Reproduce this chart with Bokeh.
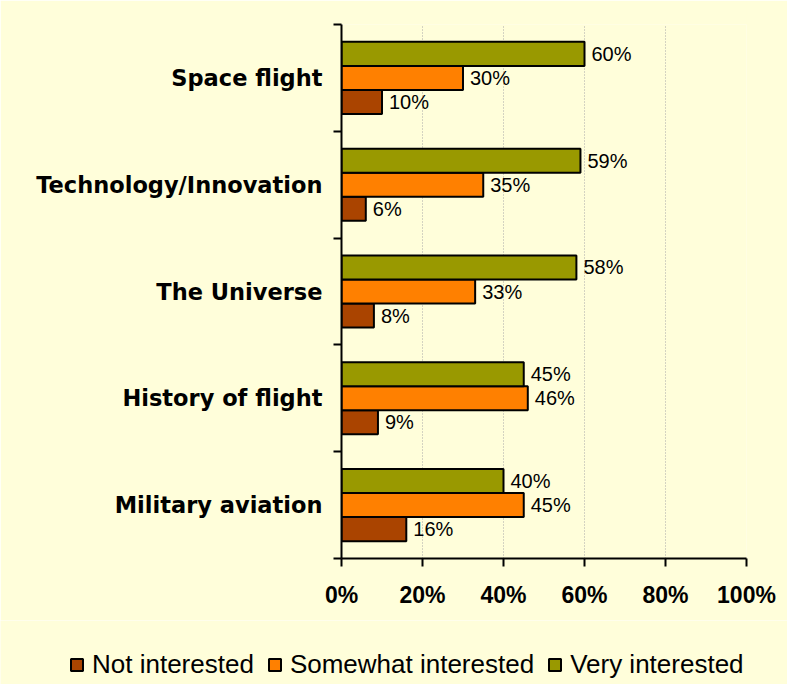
from bokeh.plotting import figure
from bokeh.models import (ColumnDataSource, FixedTicker, PrintfTickFormatter,
                          Legend, LegendItem, LabelSet)
from bokeh.core.properties import value
from bokeh.transform import dodge
from bokeh.embed import file_html
from bokeh.resources import INLINE

# ---- data (bottom to top order in chart) ----
categories = ["Military aviation", "History of flight", "The Universe",
              "Technology/Innovation", "Space flight"]
not_interested = [16, 9, 8, 6, 10]
somewhat_interested = [45, 46, 33, 35, 30]
very_interested = [40, 45, 58, 59, 60]
series_names = ["Not interested", "Somewhat interested", "Very interested"]
x_ticks = [0, 20, 40, 60, 80, 100]

colors = {"Not interested": "#AA4400",
          "Somewhat interested": "#FF8000",
          "Very interested": "#999900"}

pos = [i + 0.5 for i in range(len(categories))]
src = ColumnDataSource(dict(
    pos=pos, cat=categories,
    ni=not_interested, si=somewhat_interested, vi=very_interested,
    ni_lab=[f"{v}%" for v in not_interested],
    si_lab=[f"{v}%" for v in somewhat_interested],
    vi_lab=[f"{v}%" for v in very_interested],
))

BG = "#FFFEDA"
W = 787
p = figure(width=W, height=620, output_backend="svg", toolbar_location=None,
           x_range=(0, 100), y_range=(0, len(categories)),
           min_border_left=341, min_border_right=41,
           min_border_top=24, min_border_bottom=62,
           background_fill_color=BG, border_fill_color=BG)
p.outline_line_color = None

bh = 0.225
offsets = {"Not interested": -bh, "Somewhat interested": 0.0, "Very interested": bh}
fields = {"Not interested": ("ni", "ni_lab"),
          "Somewhat interested": ("si", "si_lab"),
          "Very interested": ("vi", "vi_lab")}

for name in series_names:
    f, lab = fields[name]
    p.hbar(y=dodge("pos", offsets[name], range=p.y_range), right=f, left=0,
           height=bh, source=src, fill_color=colors[name],
           line_color="black", line_width=2)
    labels = LabelSet(x=f, y=dodge("pos", offsets[name], range=p.y_range),
                      text=lab, source=src, x_offset=7, y_offset=0,
                      text_baseline="middle", text_align="left",
                      text_font=value("Liberation Sans"), text_font_size="20px",
                      text_color="black")
    p.add_layout(labels)

# grid
p.ygrid.grid_line_color = None
p.xgrid.ticker = FixedTicker(ticks=x_ticks[1:])
p.xgrid.grid_line_color = "#A8A8A8"
p.xgrid.grid_line_dash = "1 2"
p.xgrid.grid_line_width = 1

# x axis
xa = p.xaxis[0]
xa.ticker = FixedTicker(ticks=x_ticks)
xa.formatter = PrintfTickFormatter(format="%d%%")
xa.axis_line_width = 2
xa.axis_line_color = "black"
xa.major_tick_line_width = 2
xa.major_tick_in = 0
xa.major_tick_out = 8
xa.minor_tick_line_color = None
xa.major_label_standoff = 15
xa.major_label_text_font = "Liberation Sans"
xa.major_label_text_font_style = "bold"
xa.major_label_text_font_size = "23px"
xa.major_label_text_color = "black"

# y axis
ya = p.yaxis[0]
ya.ticker = FixedTicker(ticks=pos, minor_ticks=list(range(len(categories) + 1)))
ya.major_label_overrides = {pv: c for pv, c in zip(pos, categories)}
ya.axis_line_width = 2
ya.axis_line_color = "black"
ya.major_tick_line_color = None
ya.major_tick_in = 0
ya.major_tick_out = 0
ya.minor_tick_line_color = "black"
ya.minor_tick_line_width = 2
ya.minor_tick_in = 0
ya.minor_tick_out = 8
ya.major_label_standoff = 11
ya.major_label_text_font = "DejaVu Sans"
ya.major_label_text_font_style = "bold"
ya.major_label_text_font_size = "22.5px"
ya.major_label_text_color = "black"

# ---- legend strip (separate root, full-width frame) ----
pl = figure(width=W, height=64, output_backend="svg", toolbar_location=None,
            min_border=0, min_border_left=0, min_border_right=0,
            min_border_top=0, min_border_bottom=0,
            x_range=(0, 1), y_range=(0, 1),
            background_fill_color=BG, border_fill_color=BG)
pl.outline_line_color = None
pl.axis.visible = False
pl.grid.grid_line_color = None
items = []
for name in series_names:
    f, _ = fields[name]
    r = pl.hbar(y="pos", right=f, left=0, height=bh, source=src,
                fill_color=colors[name], line_color="black", line_width=2,
                visible=False)
    items.append(LegendItem(label=name, renderers=[r]))
legend = Legend(items=items, orientation="horizontal", location=(69, 4),
                glyph_width=15, glyph_height=15, label_standoff=8, spacing=13,
                padding=0, margin=0, border_line_color=None,
                background_fill_alpha=0, inactive_fill_alpha=0,
                label_text_font="Liberation Sans", label_text_font_size="26px",
                label_text_color="black")
pl.add_layout(legend, "center")

open("out.html", "w").write(file_html([p, pl], INLINE))
